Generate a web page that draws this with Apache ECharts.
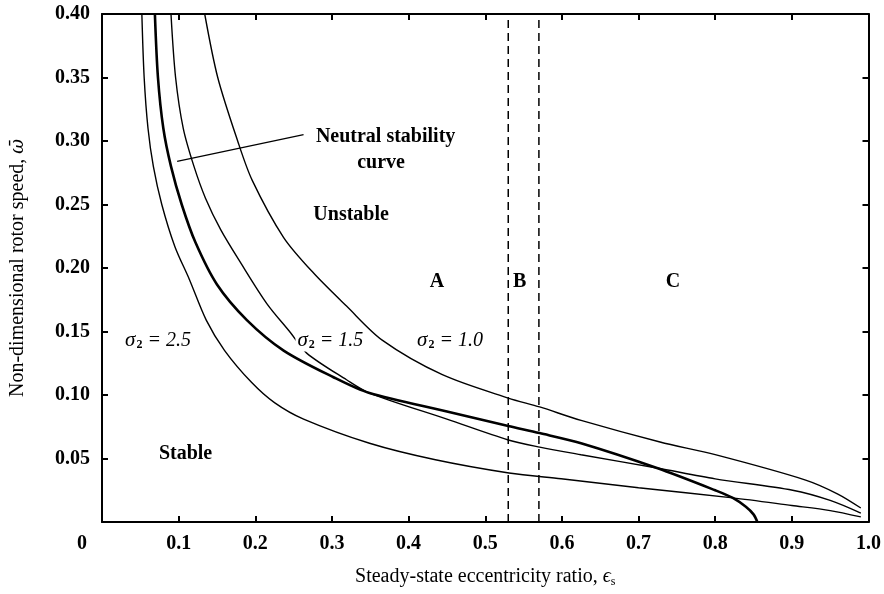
<!DOCTYPE html>
<html>
<head>
<meta charset="utf-8">
<script src="https://cdn.jsdelivr.net/npm/echarts@6/dist/echarts.min.js"></script>
<style>
  html, body { margin: 0; padding: 0; background: #fff; }
  #chart { width: 884px; height: 594px; }
</style>
</head>
<body>
<div id="chart"></div>
<script>
// curves: [eccentricity ratio, rotor speed]
const sigma25 = [[0.052, 0.40], [0.055, 0.35], [0.060, 0.31], [0.067, 0.28], [0.078, 0.25], [0.095, 0.217],
  [0.114, 0.191], [0.136, 0.159], [0.160, 0.135], [0.195, 0.110], [0.225, 0.094], [0.263, 0.081],
  [0.349, 0.062], [0.435, 0.049], [0.531, 0.0386], [0.599, 0.034], [0.70, 0.027], [0.823, 0.019],
  [0.90, 0.013], [0.95, 0.009], [0.99, 0.004]]
const sigma15 = [[0.090, 0.40], [0.096, 0.35], [0.106, 0.31], [0.120, 0.28], [0.135, 0.255], [0.155, 0.230],
  [0.181, 0.204], [0.215, 0.172], [0.246, 0.149], [0.267, 0.133], [0.319, 0.112], [0.349, 0.1015],
  [0.45, 0.081], [0.53, 0.0646], [0.571, 0.059], [0.625, 0.053], [0.724, 0.0425], [0.80, 0.034],
  [0.901, 0.025], [0.95, 0.017], [0.99, 0.007]]
const sigma10 = [[0.134, 0.40], [0.151, 0.35], [0.177, 0.30], [0.196, 0.269], [0.237, 0.224], [0.276, 0.196],
  [0.319, 0.170], [0.366, 0.143], [0.444, 0.116], [0.53, 0.0976], [0.571, 0.0906], [0.625, 0.080],
  [0.728, 0.063], [0.80, 0.053], [0.918, 0.033], [0.96, 0.022], [0.99, 0.011]]
const neutral = [[0.069, 0.40], [0.073, 0.35], [0.080, 0.31], [0.090, 0.28], [0.104, 0.25], [0.122, 0.22],
  [0.150, 0.187], [0.189, 0.159], [0.237, 0.135], [0.302, 0.114], [0.349, 0.1015], [0.45, 0.087],
  [0.53, 0.0756], [0.571, 0.070], [0.625, 0.062], [0.724, 0.0425], [0.80, 0.025], [0.823, 0.019],
  [0.84, 0.012], [0.85, 0.006], [0.855, 0]]
const zoneBounds = [0.53, 0.57] // dashed lines between A, B, C
const leader = [[0.098, 0.284], [0.263, 0.305]]

const notes = [
  { text: 'Neutral stability', at: [0.370, 0.303] },
  { text: 'curve', at: [0.364, 0.283] },
  { text: 'Unstable', at: [0.325, 0.242] },
  { text: 'A', at: [0.437, 0.189] },
  { text: 'B', at: [0.545, 0.189] },
  { text: 'C', at: [0.745, 0.189] },
  { text: 'Stable', at: [0.109, 0.054] }
]
const sigmaNotes = [
  { value: '2.5', at: [0.073, 0.143] },
  { value: '1.5', at: [0.298, 0.143] },
  { value: '1.0', at: [0.454, 0.143] }
]

const font = 'Liberation Serif'
const black = '#000'

const curve = (data, width) => ({
  type: 'line',
  data,
  showSymbol: false,
  smooth: 0.3,
  lineStyle: { color: black, width },
  z: 3
})

const frameAxis = (extra) => Object.assign({
  type: 'value',
  axisLine: { show: true, onZero: false, lineStyle: { color: black, width: 2 } },
  axisTick: { show: true, inside: true, length: 6, lineStyle: { color: black, width: 2 } },
  splitLine: { show: false }
}, extra)

// annotation texts sit on invisible points
const textSeries = (data, label) => ({
  type: 'scatter',
  z: 10,
  symbolSize: 0,
  silent: true,
  itemStyle: { color: black, opacity: 1 },
  data,
  label: Object.assign({
    show: true,
    position: 'inside',
    color: black,
    textBorderWidth: 0
  }, label)
})

const chart = echarts.init(document.getElementById('chart'))

const option = {
  backgroundColor: '#fff',
  animation: false,
  grid: { left: 97, right: 14, top: 14, bottom: 72 },
  xAxis: [
    frameAxis({
      min: 0, max: 1, interval: 0.1, position: 'bottom',
      name: 'Steady-state eccentricity ratio, {e|ϵ}{s|s}',
      nameLocation: 'middle',
      nameGap: 44,
      nameTextStyle: {
        fontFamily: font, fontSize: 20, color: black,
        rich: {
          e: { fontFamily: font, fontSize: 20, fontStyle: 'italic', color: black },
          s: { fontFamily: font, fontSize: 12, color: black, padding: [10, 0, 0, 0] }
        }
      },
      axisLabel: {
        margin: 12,
        fontFamily: font, fontSize: 20, fontWeight: 'bold', color: black,
        formatter: v => v === 0 ? '{z|0}' : (v === 1 ? '1.0' : String(+v.toFixed(1))),
        rich: { z: { fontFamily: font, fontSize: 20, fontWeight: 'bold', color: black, padding: [0, 40, 0, 0] } }
      }
    }),
    frameAxis({ min: 0, max: 1, interval: 0.1, position: 'top', axisLabel: { show: false } })
  ],
  yAxis: [
    frameAxis({
      min: 0, max: 0.4, interval: 0.05, position: 'left',
      name: 'Non-dimensional rotor speed, {w|ω\u0304}',
      nameLocation: 'middle',
      nameGap: 74,
      nameTextStyle: {
        fontFamily: font, fontSize: 20, color: black,
        rich: { w: { fontFamily: 'DejaVu Serif', fontSize: 18, fontStyle: 'italic', color: black } }
      },
      axisLabel: {
        margin: 12,
        fontFamily: font, fontSize: 20, fontWeight: 'bold', color: black,
        formatter: v => v === 0 ? '' : v.toFixed(2)
      }
    }),
    frameAxis({ min: 0, max: 0.4, interval: 0.05, position: 'right', axisLabel: { show: false } })
  ],
  series: [
    curve(sigma25, 1.4),
    curve(sigma15, 1.4),
    curve(sigma10, 1.4),
    curve(neutral, 2.6),
    ...zoneBounds.map(x => ({
      type: 'line',
      data: [[x, 0], [x, 0.4]],
      showSymbol: false,
      lineStyle: { color: black, width: 1.5, type: [8, 5] }
    })),
    {
      type: 'line',
      data: leader,
      showSymbol: false,
      lineStyle: { color: black, width: 1.2 }
    },
    textSeries(notes.map(n => ({ value: n.at, text: n.text })), {
      fontFamily: font, fontSize: 20, fontWeight: 'bold',
      formatter: p => p.data.text
    }),
    textSeries(sigmaNotes.map(n => ({ value: n.at, text: n.value })), {
      backgroundColor: '#fff',
      padding: [0, 2, 0, 2],
      formatter: p => '{i|σ}{s|2}{t| = ' + p.data.text + '}',
      rich: {
        i: { fontFamily: font, fontSize: 21, fontStyle: 'italic', color: black },
        s: { fontFamily: font, fontSize: 12, fontWeight: 'bold', color: black, padding: [10, 0, 0, 1] },
        t: { fontFamily: font, fontSize: 20, fontStyle: 'italic', color: black }
      }
    })
  ]
}

chart.setOption(option)
</script>
</body>
</html>
